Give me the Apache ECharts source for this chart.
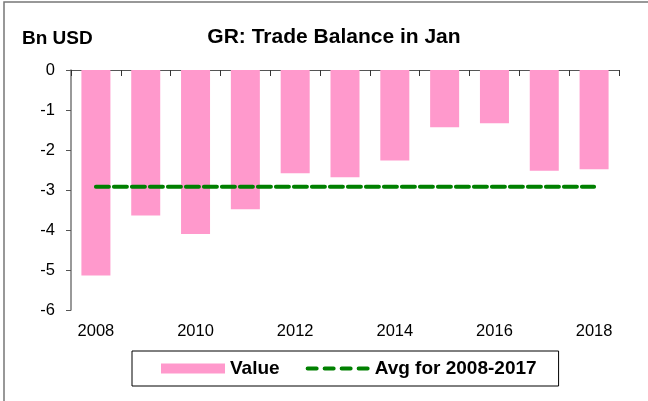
<!DOCTYPE html>
<html>
<head>
<meta charset="utf-8">
<script src="https://cdn.jsdelivr.net/npm/echarts@6/dist/echarts.min.js"></script>
<style>html,body{margin:0;padding:0;background:#fff}#c{width:648px;height:401px}</style>
</head>
<body>
<div id="c"></div>
<script>
var categories = ['2008','2009','2010','2011','2012','2013','2014','2015','2016','2017','2018'];
var values = [-5.14,-3.64,-4.10,-3.48,-2.58,-2.68,-2.26,-1.43,-1.33,-2.52,-2.48];
var avgValues = [-2.92,-2.92,-2.92,-2.92,-2.92,-2.92,-2.92,-2.92,-2.92,-2.92,-2.92];
var yTicks = {min:-6, max:0, interval:1};

var FONT = '"Liberation Sans", Arial, sans-serif';
var GREEN = '#008000';
var DASH_ICON = 'path://M2,0h9a2,2 0 0 1 0,4h-9a2,2 0 0 1 0,-4z M19,0h9a2,2 0 0 1 0,4h-9a2,2 0 0 1 0,-4z M36,0h9a2,2 0 0 1 0,4h-9a2,2 0 0 1 0,-4z M53,0h9a2,2 0 0 1 0,4h-9a2,2 0 0 1 0,-4z';
var chart = echarts.init(document.getElementById('c'), null, {renderer:'canvas'});
chart.setOption({
  animation:false,
  textStyle:{fontFamily:FONT},
  title:{text:'GR: Trade Balance in Jan', left:329, textAlign:'center', top:22,
    textStyle:{fontFamily:FONT, fontWeight:'bold', fontSize:21, color:'#000'}},
  graphic:[
    {type:'rect', shape:{x:4, y:2, width:700, height:500}, style:{fill:'none', stroke:'#777', lineWidth:1.5}, silent:true},
    {type:'text', left:22, top:29, style:{text:'Bn USD', font:'bold 19px "Liberation Sans", Arial, sans-serif', fill:'#000'}}
  ],
  legend:{
    left:132, top:351, orient:'horizontal',
    borderColor:'#000', borderWidth:1, padding:[8,22,8,29],
    itemWidth:64, itemHeight:10, itemGap:26,
    textStyle:{fontFamily:FONT, fontWeight:'bold', fontSize:19, color:'#000'},
    data:[
      {name:'Value', icon:'rect'},
      {name:'Avg for 2008-2017', icon:DASH_ICON, itemStyle:{color:GREEN}}
    ]
  },
  grid:{left:71, right:29, top:70, bottom:91, containLabel:false},
  xAxis:[
    {type:'category', data:categories, position:'top', boundaryGap:true,
      axisLine:{show:true, lineStyle:{color:'#555', width:1}},
      axisTick:{show:true, inside:true, alignWithLabel:false, length:6, lineStyle:{color:'#333'}},
      axisLabel:{show:false}, splitLine:{show:false}},
    {type:'category', data:categories, position:'bottom', boundaryGap:true,
      axisLine:{show:false}, axisTick:{show:false},
      axisLabel:{show:true, interval:1, margin:13, fontFamily:FONT, fontSize:16.5, color:'#000'}}
  ],
  yAxis:{type:'value', min:yTicks.min, max:yTicks.max, interval:yTicks.interval,
    axisLine:{show:true, lineStyle:{color:'#777', width:1.5}},
    axisTick:{show:true, length:5, lineStyle:{color:'#555'}},
    axisLabel:{margin:16, fontFamily:FONT, fontSize:16.5, color:'#000'},
    splitLine:{show:false}},
  series:[
    {name:'Value', type:'bar', data:values, barWidth:29, xAxisIndex:0,
      itemStyle:{color:'#FF99CC'}},
    {name:'Avg for 2008-2017', type:'line', data:avgValues, xAxisIndex:0, symbol:'none', showSymbol:false,
      lineStyle:{color:GREEN, width:4, type:[13,5], cap:'round'}, itemStyle:{color:GREEN}}
  ]
});
</script>
</body>
</html>
